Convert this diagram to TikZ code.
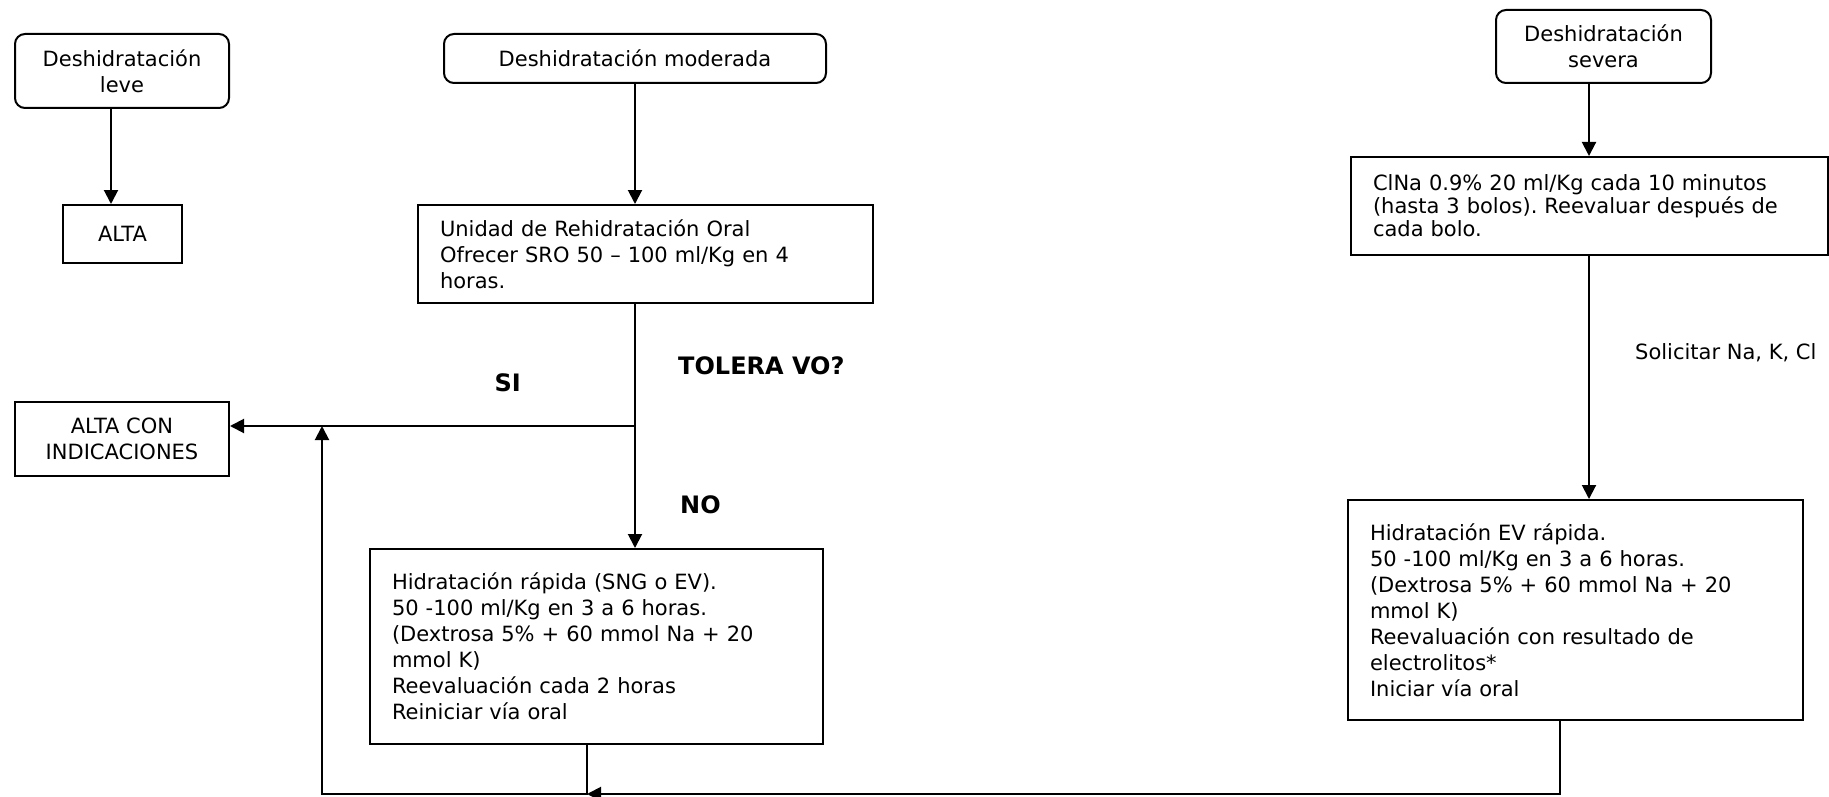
\documentclass[tikz,border=0pt]{standalone}
\usepackage{fontspec}
\setmainfont{DejaVu Sans}
\usetikzlibrary{arrows.meta,calc}
\frenchspacing
\begin{document}
\begin{tikzpicture}[x=1pt,y=-1pt,
  box/.style={draw,line width=2pt,inner sep=0pt,font=\fontsize{21}{26}\selectfont},
  rbox/.style={box,rounded corners=10pt,align=center},
  cbox/.style={box,align=center},
  tbox/.style={box,align=left,inner xsep=22pt},
  ln/.style={line width=2pt},
  arr/.style={ln,-{Triangle[length=14pt,width=14pt]}},
  lbl/.style={font=\fontsize{24}{28}\selectfont\bfseries,inner sep=0pt},
  note/.style={font=\fontsize{21}{26}\selectfont,inner sep=0pt}]
\useasboundingbox (0,0) rectangle (1829,797);

% left column
\node[rbox,minimum width=214pt,minimum height=74pt] (leve) at (122,71) {Deshidratación\\leve};
\node[cbox,minimum width=119pt,minimum height=58pt] (alta) at (122.5,234) {ALTA};
\node[cbox,minimum width=214pt,minimum height=74pt] (altacon) at (122,439) {ALTA CON\\INDICACIONES};

% middle column
\node[rbox,minimum width=382pt,minimum height=49pt] (mod) at (635,58.5) {Deshidratación moderada};
\node[tbox,text width=411pt,minimum height=98pt] (uro) at (645.5,254)
  {Unidad de Rehidratación Oral\\Ofrecer SRO 50 – 100 ml/Kg en 4\\horas.};
\node[tbox,text width=409pt,minimum height=195pt] (hidr) at (596.5,646.5)
  {Hidratación rápida (SNG o EV).\\50 -100 ml/Kg en 3 a 6 horas.\\(Dextrosa 5\% + 60 mmol Na + 20\\mmol K)\\Reevaluación cada 2 horas\\Reiniciar vía oral\\[26pt]};

% right column
\node[rbox,minimum width=215pt,minimum height=73pt] (sev) at (1603.5,46.5) {Deshidratación\\severa};
\node[tbox,text width=433pt,minimum height=98pt,font=\fontsize{21}{23}\selectfont] (clna) at (1589.5,206)
  {ClNa 0.9\% 20 ml/Kg cada 10 minutos\\(hasta 3 bolos). Reevaluar después de\\cada bolo.};
\node[tbox,text width=411pt,minimum height=220pt] (ev) at (1575.5,610)
  {Hidratación EV rápida.\\50 -100 ml/Kg en 3 a 6 horas.\\(Dextrosa 5\% + 60 mmol Na + 20\\mmol K)\\Reevaluación con resultado de\\electrolitos*\\Iniciar vía oral\\[14pt]};

% labels
\node[lbl,anchor=west] (tol) at (678,366) {TOLERA VO?};
\node[lbl,anchor=east] (si) at (521,383) {SI};
\node[lbl,anchor=west] (no) at (680,505) {NO};
\node[note,anchor=west] (sol) at (1635,353) {Solicitar Na, K, Cl};

% coordinates
\coordinate (split) at (635,426);
\coordinate (siup) at (322,426);
\coordinate (lc) at (322,794);
\coordinate (j) at (587,794);

% connectors
\draw[arr] (leve.south -| 111,0) -- (alta.north -| 111,0);
\draw[arr] (mod.south -| split) -- (uro.north -| split);
\draw[ln] (uro.south -| split) -- (split);
\draw[arr] (split) -- (altacon.east |- split);
\draw[arr] (split) -- (hidr.north -| split);
\draw[arr] (hidr.south -| j) |- (lc) -- (siup);
\draw[arr] (ev.south -| 1560,0) |- (j);
\draw[arr] (sev.south -| 1589,0) -- (clna.north -| 1589,0);
\draw[arr] (clna.south -| 1589,0) -- (ev.north -| 1589,0);
\end{tikzpicture}
\end{document}
